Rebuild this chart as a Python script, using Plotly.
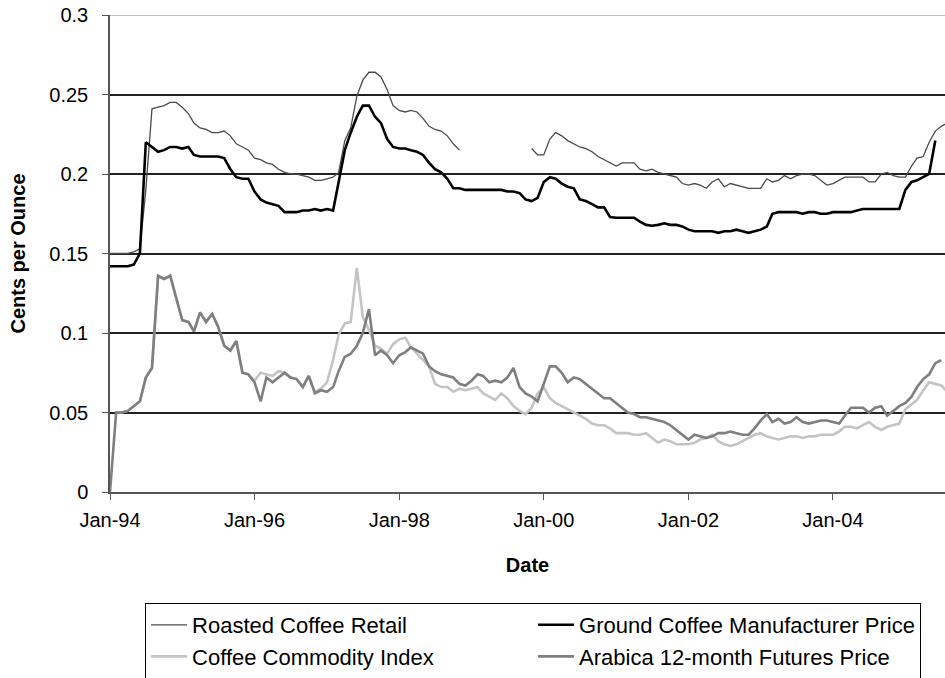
import pandas as pd
import plotly.graph_objects as go

N = None
# Monthly values, Jan-1994 onward (cents per ounce)
roasted_retail = [
    0.150, 0.150, 0.150, 0.150, 0.151, 0.153, 0.190, 0.241, 0.242, 0.243, 0.245, 0.245,
    0.242, 0.238, 0.232, 0.229, 0.228, 0.226, 0.226, 0.227, 0.224, 0.219, 0.217, 0.215,
    0.210, 0.209, 0.207, 0.206, 0.203, 0.201, 0.200, 0.200, 0.199, 0.198, 0.196, 0.196,
    0.197, 0.198, 0.201, 0.221, 0.229, 0.249, 0.259, 0.264, 0.264, 0.261, 0.253, 0.243,
    0.240, 0.239, 0.240, 0.239, 0.235, 0.230, 0.228, 0.227, 0.224, 0.219, 0.215, N,
    N, N, N, N, N, N, N, N, N, N, 0.216, 0.212,
    0.212, 0.222, 0.226, 0.224, 0.221, 0.219, 0.217, 0.216, 0.214, 0.211, 0.209, 0.207,
    0.205, 0.207, 0.207, 0.207, 0.203, 0.202, 0.203, 0.201, 0.200, 0.199, 0.198, 0.194,
    0.193, 0.194, 0.193, 0.191, 0.195, 0.197, 0.192, 0.194, 0.193, 0.192, 0.191, 0.191,
    0.191, 0.197, 0.195, 0.196, 0.199, 0.197, 0.199, 0.200, 0.200, 0.199, 0.196, 0.193,
    0.194, 0.196, 0.198, 0.198, 0.198, 0.198, 0.195, 0.195, 0.200, 0.201, 0.199, 0.198,
    0.198, 0.205, 0.210, 0.211, 0.220, 0.227, 0.230, 0.232,
]
ground_manufacturer = [
    0.142, 0.142, 0.142, 0.142, 0.143, 0.150, 0.220, 0.217, 0.214, 0.215, 0.217, 0.217,
    0.216, 0.217, 0.212, 0.211, 0.211, 0.211, 0.211, 0.210, 0.203, 0.198, 0.197, 0.197,
    0.189, 0.184, 0.182, 0.181, 0.180, 0.176, 0.176, 0.176, 0.177, 0.177, 0.178, 0.177,
    0.178, 0.177, 0.195, 0.215, 0.226, 0.236, 0.243, 0.243, 0.236, 0.232, 0.222, 0.217,
    0.216, 0.216, 0.215, 0.214, 0.212, 0.207, 0.203, 0.201, 0.197, 0.191, 0.191, 0.190,
    0.190, 0.190, 0.190, 0.190, 0.190, 0.190, 0.189, 0.189, 0.188, 0.184, 0.183, 0.185,
    0.195, 0.198, 0.197, 0.194, 0.192, 0.191, 0.184, 0.183, 0.181, 0.179, 0.179, 0.173,
    0.1725, 0.1725, 0.1725, 0.1725, 0.170, 0.168, 0.1675, 0.168, 0.169, 0.168, 0.168, 0.167,
    0.165, 0.164, 0.164, 0.164, 0.164, 0.163, 0.164, 0.164, 0.165, 0.164, 0.163, 0.164,
    0.165, 0.167, 0.175, 0.176, 0.176, 0.176, 0.176, 0.175, 0.176, 0.176, 0.175, 0.175,
    0.176, 0.176, 0.176, 0.176, 0.177, 0.178, 0.178, 0.178, 0.178, 0.178, 0.178, 0.178,
    0.190, 0.195, 0.196, 0.198, 0.200, 0.221,
]
commodity_index = [
    N, 0.050, 0.050, 0.051, 0.054, 0.057, 0.072, 0.078, 0.136, 0.134, 0.136, 0.122,
    0.108, 0.107, 0.101, 0.113, 0.107, 0.112, 0.104, 0.092, 0.089, 0.095, 0.075, 0.074,
    0.070, 0.075, 0.074, 0.073, 0.076, 0.075, 0.072, 0.071, 0.066, 0.073, 0.063, 0.065,
    0.069, 0.083, 0.099, 0.106, 0.107, 0.141, 0.110, 0.102, 0.092, 0.090, 0.087, 0.093,
    0.096, 0.097, 0.091, 0.087, 0.083, 0.079, 0.068, 0.066, 0.066, 0.063, 0.065, 0.064,
    0.065, 0.066, 0.062, 0.060, 0.058, 0.062, 0.059, 0.054, 0.051, 0.049, 0.053, 0.062,
    0.066, 0.059, 0.056, 0.054, 0.052, 0.050, 0.048, 0.046, 0.043, 0.042, 0.042, 0.040,
    0.037, 0.037, 0.037, 0.036, 0.036, 0.037, 0.034, 0.031, 0.033, 0.032, 0.030, 0.030,
    0.030, 0.031, 0.033, 0.034, 0.036, 0.032, 0.030, 0.029, 0.030, 0.032, 0.034, 0.036,
    0.037, 0.035, 0.034, 0.033, 0.034, 0.035, 0.035, 0.034, 0.035, 0.035, 0.036, 0.036,
    0.036, 0.038, 0.041, 0.041, 0.040, 0.042, 0.044, 0.041, 0.039, 0.041, 0.042, 0.043,
    0.052, 0.055, 0.058, 0.064, 0.069, 0.068, 0.067, 0.063,
]
arabica_futures = [
    0.000, 0.050, 0.050, 0.051, 0.054, 0.057, 0.072, 0.078, 0.136, 0.134, 0.136, 0.122,
    0.108, 0.107, 0.101, 0.113, 0.107, 0.112, 0.104, 0.092, 0.089, 0.095, 0.075, 0.074,
    0.069, 0.057, 0.072, 0.069, 0.072, 0.075, 0.072, 0.071, 0.066, 0.073, 0.062, 0.064,
    0.063, 0.066, 0.076, 0.085, 0.087, 0.092, 0.100, 0.115, 0.086, 0.089, 0.086, 0.081,
    0.086, 0.088, 0.091, 0.089, 0.087, 0.079, 0.076, 0.074, 0.073, 0.072, 0.068, 0.067,
    0.070, 0.074, 0.073, 0.069, 0.070, 0.069, 0.072, 0.078, 0.066, 0.062, 0.060, 0.057,
    0.068, 0.079, 0.079, 0.075, 0.069, 0.072, 0.071, 0.068, 0.065, 0.062, 0.059, 0.059,
    0.056, 0.053, 0.050, 0.049, 0.047, 0.047, 0.046, 0.045, 0.044, 0.042, 0.039, 0.036,
    0.033, 0.036, 0.035, 0.034, 0.035, 0.037, 0.037, 0.038, 0.037, 0.036, 0.036, 0.040,
    0.045, 0.049, 0.044, 0.046, 0.043, 0.044, 0.047, 0.044, 0.043, 0.044, 0.045, 0.045,
    0.044, 0.043, 0.048, 0.053, 0.053, 0.053, 0.050, 0.053, 0.054, 0.048, 0.051, 0.054,
    0.056, 0.060, 0.066, 0.071, 0.074, 0.081, 0.083,
]

y_ticks = [0, 0.05, 0.1, 0.15, 0.2, 0.25, 0.3]
y_tick_labels = ["0", "0.05", "0.1", "0.15", "0.2", "0.25", "0.3"]


def months(series):
    return pd.date_range("1994-01-01", periods=len(series), freq="MS")


FONT = "Liberation Sans, Arial, sans-serif"

fig = go.Figure()
fig.add_trace(go.Scatter(x=months(roasted_retail), y=roasted_retail, mode="lines",
                         name="Roasted Coffee Retail", connectgaps=False,
                         line=dict(color="#4a4a4a", width=1.3)))
fig.add_trace(go.Scatter(x=months(ground_manufacturer), y=ground_manufacturer, mode="lines",
                         name="Ground Coffee Manufacturer Price",
                         line=dict(color="#000000", width=2.6)))
fig.add_trace(go.Scatter(x=months(commodity_index), y=commodity_index, mode="lines",
                         name="Coffee Commodity Index",
                         line=dict(color="#c4c4c4", width=2.6)))
fig.add_trace(go.Scatter(x=months(arabica_futures), y=arabica_futures, mode="lines",
                         name="Arabica 12-month Futures Price",
                         line=dict(color="#7f7f7f", width=2.6)))

fig.update_layout(
    width=945, height=678,
    margin=dict(l=110, r=0, t=15, b=186, autoexpand=False),
    paper_bgcolor="white", plot_bgcolor="white",
    font=dict(family=FONT, size=20, color="#000000"),
    showlegend=True,
    legend=dict(orientation="h", x=0.042, y=-0.2327, xanchor="left", yanchor="top",
                itemwidth=36, entrywidth=336, entrywidthmode="pixels",
                bordercolor="#000000", borderwidth=1,
                font=dict(family=FONT, size=22, color="#000000"),
                traceorder="normal"),
    xaxis=dict(
        type="date", automargin=False,
        range=["1994-01-01", "2005-07-20"],
        tick0="1994-01-01", dtick="M24", tickformat="%b-%y",
        ticks="outside", ticklen=6, tickcolor="#555555", tickwidth=1.2,
        ticklabelstandoff=3, ticklabeloverflow="allow",
        showgrid=False, zeroline=False,
        showline=True, linecolor="#555555", linewidth=1.5,
        tickfont=dict(size=20),
        title=dict(text="<b>Date</b>", font=dict(size=20), standoff=28),
    ),
    yaxis=dict(
        range=[0, 0.3], automargin=False,
        tickvals=y_ticks, ticktext=y_tick_labels,
        ticks="outside", ticklen=6, tickcolor="#555555", tickwidth=1.2,
        ticklabelstandoff=10, ticklabeloverflow="allow",
        showgrid=True, gridcolor="#222222", gridwidth=1.5,
        zeroline=False,
        showline=True, linecolor="#555555", linewidth=1.5,
        tickfont=dict(size=20),
        title=dict(text="<b>Cents per Ounce</b>", font=dict(size=20), standoff=18),
    ),
    shapes=[dict(type="line", xref="paper", yref="y", x0=0, x1=1, y0=0.3, y1=0.3,
                 line=dict(color="#aaaaaa", width=1.5), layer="above")],
)

fig.write_html("out.html",
               config={"displayModeBar": False},
               post_script="document.body.style.margin='0';document.body.style.overflow='hidden';")
